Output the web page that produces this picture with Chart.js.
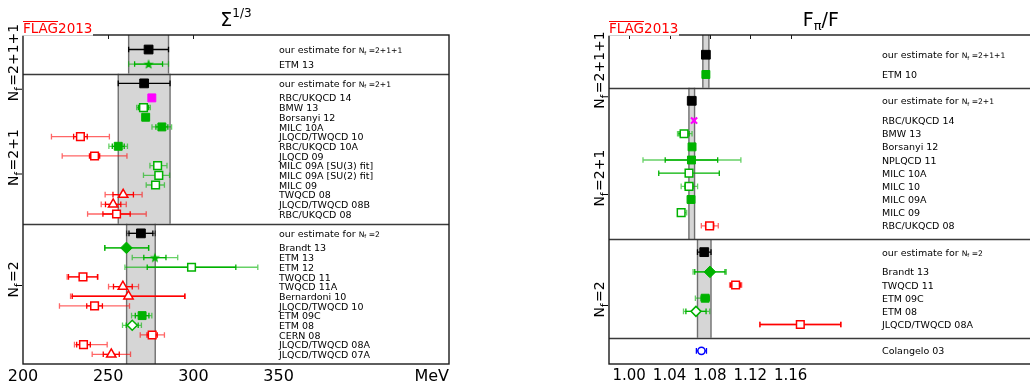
<!DOCTYPE html>
<html>
<head>
<meta charset="utf-8">
<title>FLAG 2013 - Sigma^(1/3) and Fpi/F</title>
<script src="https://cdn.jsdelivr.net/npm/chart.js@4.4.1/dist/chart.umd.min.js"></script>
<style>
  body { margin: 0; background: #fff; overflow: hidden; }
  #wrap { position: relative; width: 1030px; height: 391px; overflow: hidden; background: #fff; }
  canvas { position: absolute; top: 0; }
  #sigmaChart { left: 0; }
  #fpiChart { left: 580px; }
</style>
</head>
<body>
<div id="wrap">
  <canvas id="sigmaChart" width="460" height="391"></canvas>
  <canvas id="fpiChart" width="460" height="391"></canvas>
</div>
<script>
// ---- Sigma^(1/3) in MeV ----
const sigmaNf = ['2+1+1', '2+1', '2'];
const sigmaEstimate = [273.7, 271.1, 269.2];
const sigmaEstimateStat = [11.7, 15.2, 7.0];
const sigmaEstimateErr = [11.7, 15.2, 8.4];   // total error = grey band

const sigma4Names = ['ETM 13'];
const sigma4Values = [273.7];
const sigma4Stat = [8.2];
const sigma4Err = [[11.7, 11.7]];
const sigma4Marks = ['star:green'];

const sigma3Names = ['RBC/UKQCD 14', 'BMW 13', 'Borsanyi 12', 'MILC 10A', 'JLQCD/TWQCD 10', 'RBC/UKQCD 10A',
  'JLQCD 09', 'MILC 09A [SU(3) fit]', 'MILC 09A [SU(2) fit]', 'MILC 09', 'TWQCD 08', 'JLQCD/TWQCD 08B', 'RBC/UKQCD 08'];
const sigma3Values = [275.6, 270.7, 272.0, 281.5, 233.7, 255.9, 242.0, 279.0, 279.7, 277.8, 258.8, 252.9, 254.9];
const sigma3Stat = [1, 3, 1.5, 3.5, 4, 3.5, 3, 2, 2, 1, 6, 4.5, 8];
const sigma3Err = [[1.5, 1.5], [4, 4], [2, 2], [5.8, 5.7], [17, 17], [5.5, 5.4], [19, 19], [4.5, 5.5],
  [9, 6.3], [5.5, 5.2], [10.6, 11.1], [7, 7.7], [17, 17.4]];
const sigma3Marks = ['sq:magenta', 'sq:green:open', 'sq:green', 'sq:green', 'sq:red:open', 'sq:green', 'sq:red:open',
  'sq:green:open', 'sq:green:open', 'sq:green:open', 'tri:red:open', 'tri:red:open', 'sq:red:open'];

const sigma2Names = ['Brandt 13', 'ETM 13', 'ETM 12', 'TWQCD 11', 'TWQCD 11A', 'Bernardoni 10', 'JLQCD/TWQCD 10',
  'ETM 09C', 'ETM 08', 'CERN 08', 'JLQCD/TWQCD 08A', 'JLQCD/TWQCD 07A'];
const sigma2Values = [260.7, 277.4, 298.9, 235.2, 258.6, 261.9, 242.0, 269.9, 264.1, 275.8, 235.5, 251.8];
const sigma2Stat = [13, 6.5, 26, 8.5, 5.5, 33, 4.6, 4, 3.5, 3, 4, 4.7];
const sigma2Err = [[12.7, 13.1], [13.3, 13.4], [39.1, 38.9], [9.3, 8.8], [8.4, 9.2], [34, 33.3], [20.6, 20.5],
  [6.2, 5.7], [5.7, 5.4], [7, 7.2], [5.3, 13.9], [11.2, 11.3]];
const sigma2Marks = ['dia:green', 'star:green', 'sq:green:open', 'sq:red:open', 'tri:red:open', 'tri:red:open',
  'sq:red:open', 'sq:green', 'dia:green:open', 'sq:red:open', 'sq:red:open', 'tri:red:open'];

const sigmaTicks = [200, 250, 300, 350];

// ---- F_pi / F ----
const fpiNf = ['2+1+1', '2+1', '2'];
const fpiEstimate = [1.0760, 1.0620, 1.0744];
const fpiEstimateStat = [0.0030, 0.0028, 0.0067];
const fpiEstimateErr = [0.0030, 0.0028, 0.0067];

const fpi4Names = ['ETM 10'];
const fpi4Values = [1.0760];
const fpi4Stat = [0.0020];
const fpi4Err = [[0.0028, 0.0028]];
const fpi4Marks = ['sq:green'];

const fpi3Names = ['RBC/UKQCD 14', 'BMW 13', 'Borsanyi 12', 'NPLQCD 11', 'MILC 10A', 'MILC 10', 'MILC 09A', 'MILC 09', 'RBC/UKQCD 08'];
const fpi3Values = [1.0643, 1.0544, 1.0623, 1.0617, 1.0593, 1.0593, 1.0613, 1.0515, 1.0797];
const fpi3Stat = [0.001, 0.005, 0.002, 0.026, 0.030, 0.004, 0.002, 0.002, 0.004];
const fpi3Err = [[0.001, 0.001], [0.0065, 0.0079], [0.002, 0.002], [0.048, 0.049], [0.030, 0.030],
  [0.0078, 0.0085], [0.002, 0.002], [0.003, 0.0055], [0.0082, 0.0086]];
const fpi3Marks = ['x:magenta', 'sq:green:open', 'sq:green', 'sq:green', 'sq:green:open', 'sq:green:open',
  'sq:green', 'sq:green:open', 'sq:red:open'];

const fpi2Names = ['Brandt 13', 'TWQCD 11', 'ETM 09C', 'ETM 08', 'JLQCD/TWQCD 08A'];
const fpi2Values = [1.0800, 1.1055, 1.0753, 1.0662, 1.1696];
const fpi2Stat = [0.015, 0.005, 0.004, 0.010, 0.040];
const fpi2Err = [[0.0167, 0.0163], [0.006, 0.006], [0.0097, 0.004], [0.0124, 0.0136], [0.0402, 0.0405]];
const fpi2Marks = ['dia:green', 'sq:red:open', 'sq:green', 'dia:green:open', 'sq:red:open'];

const fpiPhenoNames = ['Colangelo 03'];
const fpiPhenoValues = [1.0716];
const fpiPhenoStat = [0.005];
const fpiPhenoErr = [[0.005, 0.005]];
const fpiPhenoMarks = ['circ:blue:open'];

const fpiTicks = [1.00, 1.04, 1.08, 1.12, 1.16];

// ---- styling ----
const FONT = '"DejaVu Sans", sans-serif';
const palette = {
  green: ['#00b200', 'rgba(0,178,0,0.6)'],
  red: ['#ff0000', 'rgba(255,0,0,0.6)'],
  magenta: ['#ff00ff', 'rgba(255,0,255,0.6)'],
  blue: ['#0000ff', 'rgba(0,0,255,0.6)'],
  black: ['#000000', 'rgba(0,0,0,0.6)']
};

function starImage(color) {
  const c = document.createElement('canvas');
  c.width = 14; c.height = 14;
  const g = c.getContext('2d');
  g.fillStyle = color;
  g.beginPath();
  for (let i = 0; i < 10; i++) {
    const r = i % 2 ? 2.3 : 5.4;
    const a = -Math.PI / 2 + i * Math.PI / 5;
    g.lineTo(7 + r * Math.cos(a), 7.5 + r * Math.sin(a));
  }
  g.closePath();
  g.fill();
  return c;
}

function markerStyle(code, isEst) {
  const [shape, color, open] = code.split(':');
  const col = palette[color][0];
  const m = { color, fill: open ? '#ffffff' : col, stroke: col, bw: open ? 1.5 : 1 };
  if (shape === 'sq') { m.style = 'rect'; m.radius = isEst ? 6.2 : (open ? 5.4 : 5.6); }
  if (shape === 'tri') { m.style = 'triangle'; m.radius = 5.4; }
  if (shape === 'dia') { m.style = 'rectRot'; m.radius = open ? 5.0 : 5.8; }
  if (shape === 'star') { m.style = starImage(col); m.radius = 5; }
  if (shape === 'x') { m.style = 'crossRot'; m.radius = 4.4; m.bw = 2; }
  if (shape === 'circ') { m.style = 'circle'; m.radius = 3.6; }
  return m;
}

// rows get y positions in "row units"; first group has a bit more room on top
function layoutRows(groups) {
  const rows = [], spans = [];
  let y = 0;
  groups.forEach((g, gi) => {
    const start = y;
    let cur = y + (gi === 0 ? 1.5 : 1);
    if (g.est) {
      rows.push(Object.assign({ est: true, nf: g.nf, value: g.est[0], stat: g.est[1], lo: g.est[2], hi: g.est[2], y: cur },
        markerStyle('sq:black', true)));
      cur += 1.5;
    }
    g.names.forEach((name, i) => {
      rows.push(Object.assign({ name, value: g.values[i], stat: g.stat[i], lo: g.err[i][0], hi: g.err[i][1], y: cur },
        markerStyle(g.marks[i], false)));
      cur += 1;
    });
    y = cur;
    spans.push({ start, end: y, est: g.est, nf: g.nf });
  });
  return { rows, spans, total: y };
}

function drawPieces(ctx, pieces, x, y, align) {
  let w = 0;
  pieces.forEach(p => { ctx.font = p.size + 'px ' + FONT; p.w = ctx.measureText(p.t).width + (p.gap || 0); w += p.w; });
  let cx = align === 'center' ? x - w / 2 : (align === 'right' ? x - w : x);
  ctx.textAlign = 'left';
  ctx.textBaseline = 'alphabetic';
  pieces.forEach(p => {
    ctx.font = p.size + 'px ' + FONT;
    ctx.fillText(p.t, cx, y + (p.dy || 0));
    cx += p.w;
  });
}

function makeDecor(panel) {
  const seg = (ctx, x1, x2, y, cap) => {
    ctx.beginPath();
    ctx.moveTo(x1, y); ctx.lineTo(x2, y);
    ctx.moveTo(x1, y - cap); ctx.lineTo(x1, y + cap);
    ctx.moveTo(x2, y - cap); ctx.lineTo(x2, y + cap);
    ctx.stroke();
  };
  return {
    id: 'decor_' + panel.id,
    beforeDatasetsDraw(chart) {
      const { ctx, chartArea: a, scales: { x, y } } = chart;
      ctx.save();
      // grey bands of the FLAG estimates
      panel.layout.spans.forEach(s => {
        if (!s.est) return;
        const x1 = x.getPixelForValue(s.est[0] - s.est[2]);
        const x2 = x.getPixelForValue(s.est[0] + s.est[2]);
        const y1 = y.getPixelForValue(s.start), y2 = y.getPixelForValue(s.end);
        ctx.fillStyle = '#d6d6d6';
        ctx.fillRect(x1, y1, x2 - x1, y2 - y1);
        ctx.strokeStyle = '#707070';
        ctx.lineWidth = 1.4;
        ctx.beginPath();
        ctx.moveTo(x1, y1); ctx.lineTo(x1, y2);
        ctx.moveTo(x2, y1); ctx.lineTo(x2, y2);
        ctx.stroke();
      });
      // separators between N_f groups
      ctx.strokeStyle = '#3a3a3a';
      ctx.lineWidth = 1.3;
      panel.layout.spans.slice(1).forEach(s => {
        const py = Math.round(y.getPixelForValue(s.start)) + 0.5;
        ctx.beginPath(); ctx.moveTo(a.left, py); ctx.lineTo(a.right, py); ctx.stroke();
      });
      // error bars: faint = total, solid = statistical
      ctx.lineWidth = 1.3;
      panel.layout.rows.forEach(r => {
        const py = y.getPixelForValue(r.y);
        const [solid, faint] = palette[r.color];
        if (r.lo > r.stat + 1e-9 || r.hi > r.stat + 1e-9) {
          ctx.strokeStyle = faint;
          seg(ctx, x.getPixelForValue(r.value - r.lo), x.getPixelForValue(r.value + r.hi), py, 2.8);
        }
        ctx.strokeStyle = solid;
        seg(ctx, x.getPixelForValue(r.value - Math.min(r.stat, r.lo)), x.getPixelForValue(r.value + Math.min(r.stat, r.hi)), py, 2.8);
      });
      ctx.restore();
    },
    afterDraw(chart) {
      const { ctx, chartArea: a, scales: { x, y } } = chart;
      ctx.save();
      // frame
      ctx.strokeStyle = '#1a1a1a';
      ctx.lineWidth = 1.4;
      ctx.strokeRect(a.left, a.top, a.right - a.left, a.bottom - a.top);
      // small inward ticks on the top edge
      ctx.lineWidth = 1;
      panel.ticks.forEach(v => {
        const px = Math.round(x.getPixelForValue(v)) + 0.5;
        if (px < a.left + 3 || px > panel.labelX - 4) return;
        ctx.beginPath(); ctx.moveTo(px, a.top); ctx.lineTo(px, a.top + 4); ctx.stroke();
      });
      // FLAG2013 tag on a white box
      ctx.fillStyle = '#ffffff';
      ctx.fillRect(a.left - 1, 16, 71, a.top - 15.3);
      ctx.fillStyle = '#ff0000';
      ctx.font = '13.5px ' + FONT;
      ctx.textAlign = 'left';
      ctx.textBaseline = 'alphabetic';
      ctx.fillText('FLAG2013', a.left, 33);
      const fw = ctx.measureText('FLAG').width;
      ctx.strokeStyle = '#ff0000';
      ctx.lineWidth = 1;
      ctx.beginPath(); ctx.moveTo(a.left, 21.5); ctx.lineTo(a.left + fw, 21.5); ctx.stroke();
      // title
      ctx.fillStyle = '#000000';
      drawPieces(ctx, panel.title, (a.left + a.right) / 2, 26, 'center');
      // row labels
      panel.layout.rows.forEach(r => {
        const py = y.getPixelForValue(r.y) + 3.6;
        if (r.est) {
          drawPieces(ctx, [
            { t: 'our estimate for ', size: 9.5 },
            { t: 'N', size: 7.6 },
            { t: 'f', size: 5.4, dy: 1.5 },
            { t: ' =' + r.nf, size: 7.6 }
          ], panel.labelX, py, 'left');
        } else {
          drawPieces(ctx, [{ t: r.name, size: 9.5 }], panel.labelX, py, 'left');
        }
      });
      // N_f group labels along the left side
      panel.layout.spans.forEach((s, i) => {
        if (!s.nf) return;
        const cy = y.getPixelForValue(panel.nfLabelAt[i]);
        ctx.save();
        ctx.translate(a.left - 5, cy);
        ctx.rotate(-Math.PI / 2);
        drawPieces(ctx, [
          { t: 'N', size: 14 },
          { t: 'f', size: 10, dy: 3.5, gap: 1.5 },
          { t: '=' + s.nf, size: 14 }
        ], 0, 0, 'center');
        ctx.restore();
      });
      if (panel.unit) {
        ctx.font = '16px ' + FONT;
        ctx.textAlign = 'right';
        ctx.textBaseline = 'middle';
        ctx.fillText(panel.unit, a.right, a.bottom + 12.5);
      }
      ctx.restore();
    }
  };
}

function makePanel(panel) {
  panel.layout = layoutRows(panel.groups);
  const rows = panel.layout.rows;
  return new Chart(document.getElementById(panel.id), {
    type: 'scatter',
    data: {
      datasets: [{
        data: rows.map(r => ({ x: r.value, y: r.y })),
        pointStyle: rows.map(r => r.style),
        pointRadius: rows.map(r => r.radius),
        pointHoverRadius: rows.map(r => r.radius),
        pointBackgroundColor: rows.map(r => r.fill),
        pointBorderColor: rows.map(r => r.stroke),
        pointBorderWidth: rows.map(r => r.bw)
      }]
    },
    options: {
      responsive: false,
      animation: false,
      devicePixelRatio: 1,
      layout: { padding: { left: panel.pad[0], right: panel.pad[1], top: 35, bottom: 0 } },
      plugins: { legend: { display: false }, tooltip: { enabled: false } },
      scales: {
        x: {
          type: 'linear',
          min: panel.range[0],
          max: panel.range[1],
          grid: { display: false, drawTicks: false },
          border: { display: false },
          afterBuildTicks: (scale) => { scale.ticks = panel.ticks.map(v => ({ value: v })); },
          afterFit: (scale) => { scale.height = 27; },
          ticks: {
            padding: 3,
            color: '#000',
            font: { family: 'DejaVu Sans', size: panel.tickSize },
            maxRotation: 0,
            callback: panel.fmt
          }
        },
        y: { type: 'linear', display: false, reverse: true, min: 0, max: panel.layout.total }
      }
    },
    plugins: [makeDecor(panel)]
  });
}

const sigmaGroups = [
  { nf: sigmaNf[0], est: [sigmaEstimate[0], sigmaEstimateStat[0], sigmaEstimateErr[0]],
    names: sigma4Names, values: sigma4Values, stat: sigma4Stat, err: sigma4Err, marks: sigma4Marks },
  { nf: sigmaNf[1], est: [sigmaEstimate[1], sigmaEstimateStat[1], sigmaEstimateErr[1]],
    names: sigma3Names, values: sigma3Values, stat: sigma3Stat, err: sigma3Err, marks: sigma3Marks },
  { nf: sigmaNf[2], est: [sigmaEstimate[2], sigmaEstimateStat[2], sigmaEstimateErr[2]],
    names: sigma2Names, values: sigma2Values, stat: sigma2Stat, err: sigma2Err, marks: sigma2Marks }
];

const fpiGroups = [
  { nf: fpiNf[0], est: [fpiEstimate[0], fpiEstimateStat[0], fpiEstimateErr[0]],
    names: fpi4Names, values: fpi4Values, stat: fpi4Stat, err: fpi4Err, marks: fpi4Marks },
  { nf: fpiNf[1], est: [fpiEstimate[1], fpiEstimateStat[1], fpiEstimateErr[1]],
    names: fpi3Names, values: fpi3Values, stat: fpi3Stat, err: fpi3Err, marks: fpi3Marks },
  { nf: fpiNf[2], est: [fpiEstimate[2], fpiEstimateStat[2], fpiEstimateErr[2]],
    names: fpi2Names, values: fpi2Values, stat: fpi2Stat, err: fpi2Err, marks: fpi2Marks },
  { nf: null, est: null,
    names: fpiPhenoNames, values: fpiPhenoValues, stat: fpiPhenoStat, err: fpiPhenoErr, marks: fpiPhenoMarks }
];

makePanel({
  id: 'sigmaChart',
  groups: sigmaGroups,
  range: [200, 450],
  ticks: sigmaTicks,
  tickSize: 16,
  fmt: v => String(v),
  pad: [23, 11],
  labelX: 279,
  nfLabelAt: [2.84, 12.66, 25.26],
  unit: 'MeV',
  title: [{ t: 'Σ', size: 19 }, { t: '1/3', size: 12, dy: -9 }]
});

makePanel({
  id: 'fpiChart',
  groups: fpiGroups,
  range: [0.98, 1.40],
  ticks: fpiTicks,
  tickSize: 15,
  fmt: v => v.toFixed(2),
  pad: [29, 6],
  labelX: 302,
  nfLabelAt: [2.66, 10.87, 20.1],
  title: [{ t: 'F', size: 19 }, { t: 'π', size: 13, dy: 4 }, { t: '/F', size: 19 }]
});
</script>
</body>
</html>
